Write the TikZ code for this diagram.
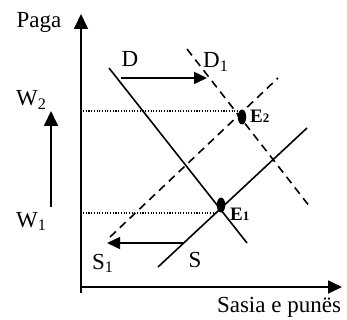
\documentclass[tikz,border=0pt]{standalone}
\usepackage{fontspec}
\setmainfont{Liberation Serif}
\usetikzlibrary{arrows.meta,shapes.geometric}
\begin{document}
\begin{tikzpicture}[x=1pt,y=-1pt,
  lbl/.style={inner sep=0pt,font=\fontsize{23}{26}\selectfont},
  elbl/.style={inner sep=0pt,font=\fontsize{19}{22}\selectfont\bfseries},
  axisline/.style={line width=1.7pt},
  curve/.style={line width=1.6pt},
  dcurve/.style={line width=1.6pt,dash pattern=on 8pt off 5.5pt},
  guide/.style={line width=1.1pt,dash pattern=on 1.1pt off 1.6pt},
  bigtip/.style={-{Triangle[width=14pt,length=15pt]}},
  smalltip/.style={-{Triangle[width=12pt,length=13pt]}},
  eq/.style={ellipse,fill=black,minimum width=8.5pt,minimum height=15pt,inner sep=0pt}
]
\useasboundingbox (0,0) rectangle (347,320);
% axes
\coordinate (yb) at (81,293);
\coordinate (yt) at (81,14);
\coordinate (xl) at (80,287);
\coordinate (xr) at (342,287);
\draw[axisline,bigtip] (yb) -- (yt);
\draw[axisline,-{Triangle[width=13pt,length=14pt]}] (xl) -- (xr);
\node[lbl] (paga) at (39,22) {Paga};
\node[lbl] (sasia) at (279,307) {Sasia e punës};
% wage labels
\node[lbl,anchor=base west] (w2) at (16,106) {W\textsubscript{2}};
\node[lbl,anchor=base west] (w1) at (16,227) {W\textsubscript{1}};
\coordinate (wa) at (51,207);
\coordinate (wb) at (51,111);
\draw[axisline,bigtip] (wa) -- (wb);
% curves
\coordinate (d0) at (109,68);
\coordinate (d1) at (247,243);
\draw[curve] (d0) -- (d1);
\coordinate (dd0) at (187,49);
\coordinate (dd1) at (310,207);
\draw[dcurve] (dd0) -- (dd1);
\coordinate (s0) at (158,267);
\coordinate (s1) at (307,128);
\draw[curve] (s0) -- (s1);
\coordinate (ss0) at (110,237);
\coordinate (ss1) at (278,78);
\draw[dcurve] (ss0) -- (ss1);
% equilibria
\node[eq] (e1) at (221,205) {};
\node[eq] (e2) at (242,117) {};
% dotted guides
\coordinate (g2) at (83,111);
\coordinate (g1) at (83,213);
\draw[guide] (g2) -- (e2.west |- g2);
\draw[guide] (g1) -- (e1.west |- g1);
% shift arrows
\coordinate (da) at (121,78);
\coordinate (db) at (207,78);
\draw[curve,smalltip] (da) -- (db);
\coordinate (sa) at (184,243);
\coordinate (sb) at (107,243);
\draw[curve,smalltip] (sa) -- (sb);
% labels
\node[lbl,anchor=base] (dl) at (130,67) {D};
\node[lbl,anchor=base west] (d1l) at (203,68) {D\textsubscript{1}};
\node[lbl,anchor=base] (sl) at (195,267) {S};
\node[lbl,anchor=base west] (s1l) at (92,269) {S\textsubscript{1}};
\node[elbl,anchor=base west] (e1l) at (230,220) {E{\fontsize{13}{15}\selectfont 1}};
\node[elbl,anchor=base west] (e2l) at (250,123) {E{\fontsize{13}{15}\selectfont 2}};
\end{tikzpicture}
\end{document}
